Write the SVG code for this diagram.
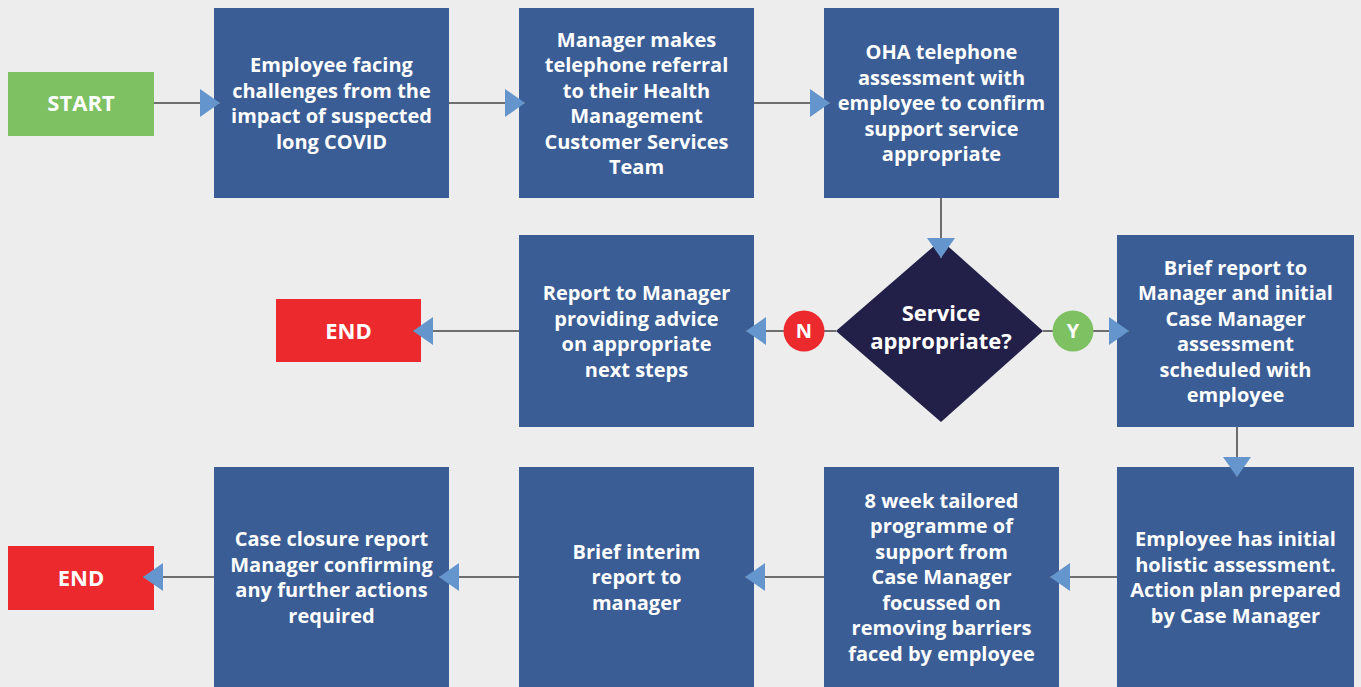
<svg xmlns="http://www.w3.org/2000/svg" width="1361" height="687" viewBox="0 0 1361 687">
<defs>
<style>
.box{fill:#3A5D95}
.start{fill:#7EC163}
.end{fill:#EC2A2E}
.dia{fill:#222049}
.t{font-family:"Open Sans","Liberation Sans",sans-serif;font-weight:700;font-size:20px;fill:#FFFFFF;text-anchor:middle}
.tl{font-size:22px}
.c{stroke:#6E6E6E;stroke-width:2;fill:none;marker-end:url(#arr)}
</style>
<marker id="arr" viewBox="0 0 20 28" refX="20" refY="14" markerWidth="20" markerHeight="28" markerUnits="userSpaceOnUse" orient="auto">
<path d="M0,0 L20,14 L0,28 z" fill="#6595CD"/>
</marker>
</defs>
<rect width="1361" height="687" fill="#EDEDED"/>

<g id="start">
<rect class="start" x="8" y="72" width="146" height="64"/>
<text class="t tl" x="81" y="111">START</text>
</g>
<g id="n1">
<rect class="box" x="214" y="8" width="235" height="190"/>
<text class="t" x="331.5" y="72"><tspan x="331.5">Employee facing</tspan><tspan x="331.5" dy="25.5">challenges from the</tspan><tspan x="331.5" dy="25.5">impact of suspected</tspan><tspan x="331.5" dy="25.5">long COVID</tspan></text>
</g>
<g id="n2">
<rect class="box" x="519" y="8" width="235" height="190"/>
<text class="t" x="636.5" y="46.5"><tspan x="636.5">Manager makes</tspan><tspan x="636.5" dy="25.5">telephone referral</tspan><tspan x="636.5" dy="25.5">to their Health</tspan><tspan x="636.5" dy="25.5">Management</tspan><tspan x="636.5" dy="25.5">Customer Services</tspan><tspan x="636.5" dy="25.5">Team</tspan></text>
</g>
<g id="n3">
<rect class="box" x="824" y="8" width="235" height="190"/>
<text class="t" x="941.5" y="59.2"><tspan x="941.5">OHA telephone</tspan><tspan x="941.5" dy="25.5">assessment with</tspan><tspan x="941.5" dy="25.5">employee to confirm</tspan><tspan x="941.5" dy="25.5">support service</tspan><tspan x="941.5" dy="25.5">appropriate</tspan></text>
</g>
<g id="decision">
<polygon class="dia" points="941,240 1043,331 941,422 836,331"/>
<text class="t tl" x="941" y="321"><tspan x="941">Service</tspan><tspan x="941" dy="28">appropriate?</tspan></text>
</g>
<g id="n4">
<rect class="box" x="519" y="235" width="235" height="192"/>
<text class="t" x="636.5" y="300"><tspan x="636.5">Report to Manager</tspan><tspan x="636.5" dy="25.5">providing advice</tspan><tspan x="636.5" dy="25.5">on appropriate</tspan><tspan x="636.5" dy="25.5">next steps</tspan></text>
</g>
<g id="end1">
<rect class="end" x="276" y="299" width="145" height="63"/>
<text class="t tl" x="348.5" y="338.5">END</text>
</g>
<g id="n5">
<rect class="box" x="1117" y="235" width="237" height="192"/>
<text class="t" x="1235.5" y="274.5"><tspan x="1235.5">Brief report to</tspan><tspan x="1235.5" dy="25.5">Manager and initial</tspan><tspan x="1235.5" dy="25.5">Case Manager</tspan><tspan x="1235.5" dy="25.5">assessment</tspan><tspan x="1235.5" dy="25.5">scheduled with</tspan><tspan x="1235.5" dy="25.5">employee</tspan></text>
</g>
<g id="n6">
<rect class="box" x="1117" y="467" width="237" height="220"/>
<text class="t" x="1235.5" y="546"><tspan x="1235.5">Employee has initial</tspan><tspan x="1235.5" dy="25.5">holistic assessment.</tspan><tspan x="1235.5" dy="25.5">Action plan prepared</tspan><tspan x="1235.5" dy="25.5">by Case Manager</tspan></text>
</g>
<g id="n7">
<rect class="box" x="824" y="467" width="235" height="220"/>
<text class="t" x="941.5" y="507.7"><tspan x="941.5">8 week tailored</tspan><tspan x="941.5" dy="25.5">programme of</tspan><tspan x="941.5" dy="25.5">support from</tspan><tspan x="941.5" dy="25.5">Case Manager</tspan><tspan x="941.5" dy="25.5">focussed on</tspan><tspan x="941.5" dy="25.5">removing barriers</tspan><tspan x="941.5" dy="25.5">faced by employee</tspan></text>
</g>
<g id="n8">
<rect class="box" x="519" y="467" width="235" height="220"/>
<text class="t" x="636.5" y="558.7"><tspan x="636.5">Brief interim</tspan><tspan x="636.5" dy="25.5">report to</tspan><tspan x="636.5" dy="25.5">manager</tspan></text>
</g>
<g id="n9">
<rect class="box" x="214" y="467" width="235" height="220"/>
<text class="t" x="331.5" y="546"><tspan x="331.5">Case closure report</tspan><tspan x="331.5" dy="25.5">Manager confirming</tspan><tspan x="331.5" dy="25.5">any further actions</tspan><tspan x="331.5" dy="25.5">required</tspan></text>
</g>
<g id="end2">
<rect class="end" x="8" y="546" width="146" height="64"/>
<text class="t tl" x="81" y="586">END</text>
</g>

<g id="connectors">
<line class="c" x1="154" y1="103" x2="220" y2="103"/>
<line class="c" x1="449" y1="103" x2="525" y2="103"/>
<line class="c" x1="754" y1="103" x2="830" y2="103"/>
<line class="c" x1="941" y1="198" x2="941" y2="258"/>
<line class="c" x1="836" y1="331" x2="746" y2="331"/>
<line class="c" x1="1043" y1="331" x2="1129" y2="331"/>
<line class="c" x1="519" y1="331" x2="413" y2="331"/>
<line class="c" x1="1237" y1="427" x2="1237" y2="477"/>
<line class="c" x1="1117" y1="577" x2="1050" y2="577"/>
<line class="c" x1="824" y1="577" x2="745" y2="577"/>
<line class="c" x1="519" y1="577" x2="439" y2="577"/>
<line class="c" x1="214" y1="577" x2="143" y2="577"/>
</g>
<g id="label-n">
<circle cx="804" cy="331" r="20.5" fill="#EC2A2E"/>
<text class="t" x="804" y="338">N</text>
</g>
<g id="label-y">
<circle cx="1073" cy="331" r="20.5" fill="#7EC163"/>
<text class="t" x="1073" y="338">Y</text>
</g>
</svg>
